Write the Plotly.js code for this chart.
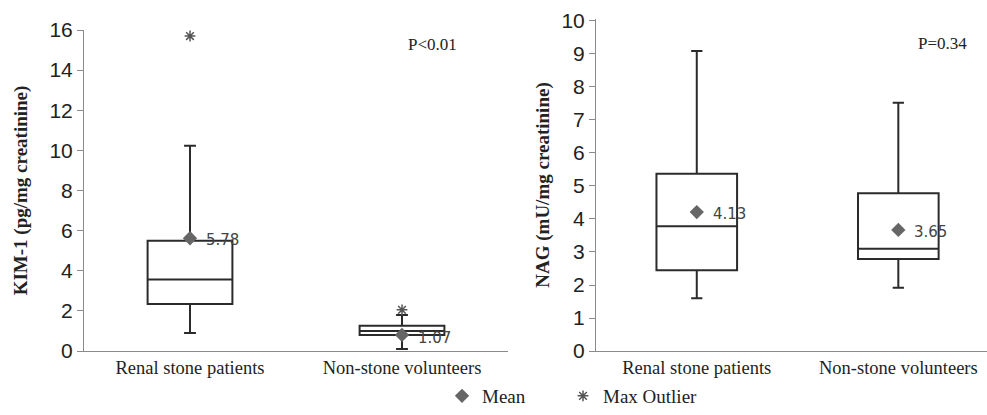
<!DOCTYPE html>
<html>
<head>
<meta charset="utf-8">
<script src="https://cdn.plot.ly/plotly-3.0.1.min.js"></script>
<style>html,body{margin:0;padding:0;background:#fff;}#chart{width:987px;height:415px;}</style>
</head>
<body>
<div id="chart"></div>
<script>
// ---- data ----
const categories = ['Renal stone patients', 'Non-stone volunteers'];

const kimLowerFence = [0.9, 0.1];
const kimQ1 = [2.34, 0.8];
const kimMedian = [3.57, 1.0];
const kimQ3 = [5.5, 1.26];
const kimUpperFence = [10.23, 1.8];
const kimMean = [5.62, 0.8];
const kimMeanLabels = ['5.78', '1.07'];
const kimMaxOutlier = [15.7, 2.05];
const kimPText = 'P<0.01';

const nagLowerFence = [1.6, 1.92];
const nagQ1 = [2.45, 2.79];
const nagMedian = [3.78, 3.1];
const nagQ3 = [5.37, 4.78];
const nagUpperFence = [9.09, 7.52];
const nagMean = [4.21, 3.67];
const nagMeanLabels = ['4.13', '3.65'];
const nagPText = 'P=0.34';

const kimTicks = [0, 2, 4, 6, 8, 10, 12, 14, 16];
const nagTicks = [0, 1, 2, 3, 4, 5, 6, 7, 8, 9, 10];

// ---- styles ----
const W = 987, H = 415;
const boxLine = {color: '#2b2b2b', width: 2};
const meanColor = '#666666';
const serif = 'Liberation Serif, Times New Roman, serif';
const sans = 'Liberation Sans, Arial, sans-serif';

function boxTrace(q1, med, q3, lo, hi, xa, ya) {
  return {
    type: 'box', x: categories, q1: q1, median: med, q3: q3,
    lowerfence: lo, upperfence: hi, boxpoints: false,
    width: 0.4, whiskerwidth: 0.14, line: boxLine, fillcolor: '#ffffff',
    xaxis: xa, yaxis: ya, showlegend: false, hoverinfo: 'skip'
  };
}

const traces = [
  boxTrace(kimQ1, kimMedian, kimQ3, kimLowerFence, kimUpperFence, 'x', 'y'),
  boxTrace(nagQ1, nagMedian, nagQ3, nagLowerFence, nagUpperFence, 'x2', 'y2'),
  {type: 'scatter', mode: 'markers', x: categories, y: kimMean, xaxis: 'x', yaxis: 'y',
   name: 'Mean', legendgroup: 'mean', legend: 'legend',
   marker: {symbol: 'diamond', size: 11, color: meanColor}},
  {type: 'scatter', mode: 'markers', x: categories, y: nagMean, xaxis: 'x2', yaxis: 'y2',
   name: 'Mean', legendgroup: 'mean', showlegend: false,
   marker: {symbol: 'diamond', size: 11, color: meanColor}},
  {type: 'scatter', mode: 'markers', x: categories, y: kimMaxOutlier, xaxis: 'x', yaxis: 'y',
   name: 'Max Outlier', legend: 'legend2',
   marker: {symbol: 'asterisk-open', size: 9, color: '#555555', line: {color: '#555555', width: 1.5}}}
];

const labelFont = {family: 'DejaVu Sans, sans-serif', size: 15, color: '#444'};
const annotations = [];
categories.forEach((c, i) => {
  annotations.push({x: c, y: kimMean[i], xref: 'x', yref: 'y', text: kimMeanLabels[i],
    showarrow: false, xanchor: 'left', xshift: 14, yshift: i === 1 ? -3 : -2, font: labelFont});
  annotations.push({x: c, y: nagMean[i], xref: 'x2', yref: 'y2', text: nagMeanLabels[i],
    showarrow: false, xanchor: 'left', xshift: 14, yshift: -2, font: labelFont});
});
annotations.push({x: 1.146, y: 15.3, xref: 'x', yref: 'y', text: kimPText, showarrow: false,
  font: {family: serif, size: 17, color: '#222'}});
annotations.push({x: 1.22, y: 9.33, xref: 'x2', yref: 'y2', text: nagPText, showarrow: false,
  font: {family: serif, size: 17, color: '#222'}});

const axisCommon = {
  showgrid: false, zeroline: false, showline: true, linecolor: '#8a8a8a', linewidth: 1,
  ticks: 'outside', tickcolor: '#8a8a8a', ticklen: 6, tickwidth: 1
};

const legendFont = {family: serif, size: 19, color: '#222'};

const layout = {
  width: W, height: H,
  margin: {l: 0, r: 0, t: 0, b: 0, autoexpand: false},
  paper_bgcolor: '#fff', plot_bgcolor: '#fff',
  showlegend: true,
  legend: {orientation: 'h', x: 442 / W, xanchor: 'left', y: 0, yanchor: 'bottom',
    font: legendFont, bgcolor: 'rgba(0,0,0,0)', borderwidth: 0},
  legend2: {orientation: 'h', x: 563 / W, xanchor: 'left', y: 0, yanchor: 'bottom',
    font: legendFont, bgcolor: 'rgba(0,0,0,0)', borderwidth: 0},
  xaxis: Object.assign({}, axisCommon, {
    domain: [84 / W, 508 / W], anchor: 'y', type: 'category', range: [-0.5, 1.5],
    ticks: '', tickfont: {family: serif, size: 18.5, color: '#222'}
  }),
  yaxis: Object.assign({}, axisCommon, {
    domain: [(H - 351) / H, (H - 30) / H], anchor: 'x', range: [0, 16],
    tickvals: kimTicks, tickfont: {family: sans, size: 21, color: '#222'},
    title: {text: '<b>KIM-1 (pg/mg creatinine)</b>', standoff: 16,
      font: {family: serif, size: 19, color: '#222'}}
  }),
  xaxis2: Object.assign({}, axisCommon, {
    domain: [596 / W, 1], anchor: 'y2', type: 'category', range: [-0.5, 1.44],
    ticks: '', tickfont: {family: serif, size: 18.5, color: '#222'}
  }),
  yaxis2: Object.assign({}, axisCommon, {
    domain: [(H - 351) / H, (H - 19) / H], anchor: 'x2', range: [0, 10.06],
    tickvals: nagTicks, tickfont: {family: sans, size: 21, color: '#222'},
    title: {text: '<b>NAG (mU/mg creatinine)</b>', standoff: 6,
      font: {family: serif, size: 19, color: '#222'}}
  }),
  shapes: [
    {type: 'line', xref: 'x', yref: 'y', x0: 0.5, x1: 0.5, y0: 0, y1: -0.35, line: {color: '#8a8a8a', width: 1}},
    {type: 'line', xref: 'x2', yref: 'y2', x0: 0.5, x1: 0.5, y0: 0, y1: -0.22, line: {color: '#8a8a8a', width: 1}}
  ],
  annotations: annotations
};

Plotly.newPlot('chart', traces, layout, {displayModeBar: false, staticPlot: true});
</script>
</body>
</html>
